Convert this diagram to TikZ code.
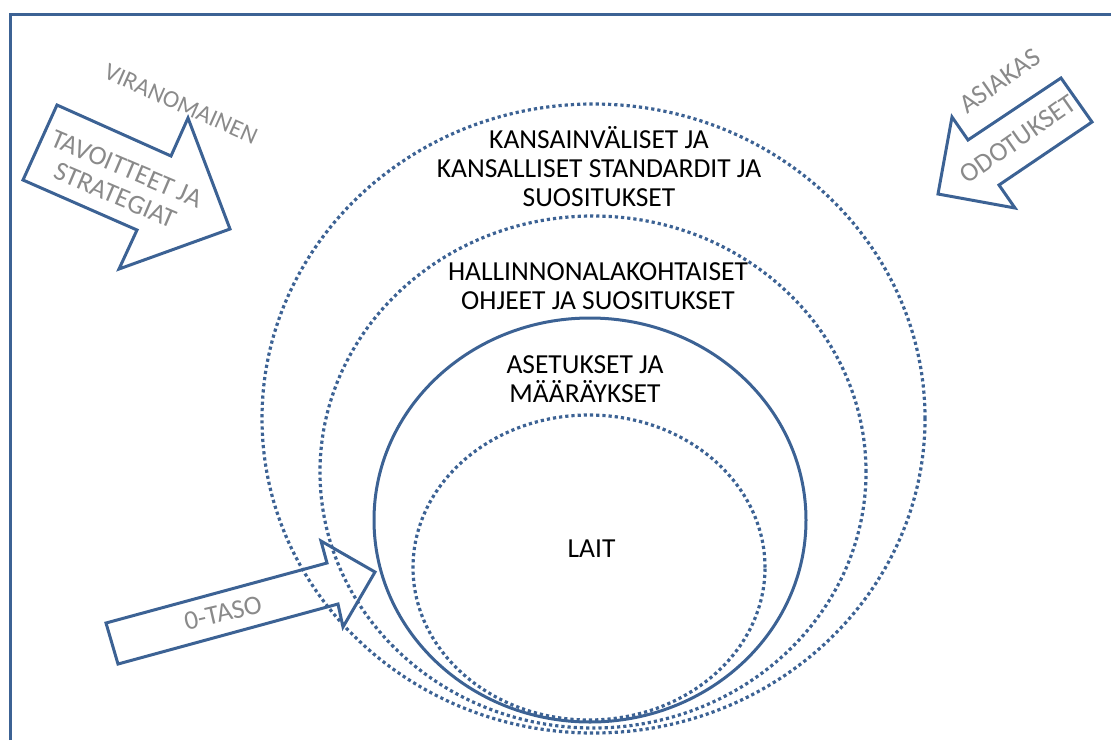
\documentclass[tikz,border=0pt]{standalone}
\usepackage{fontspec}
\setmainfont{Carlito}
\usetikzlibrary{shapes.geometric}
\definecolor{frameblue}{RGB}{60,98,148}
\definecolor{txtgrey}{RGB}{138,138,138}
\begin{document}
\begin{tikzpicture}[x=1pt,y=-1pt,
  ring/.style={ellipse, draw=frameblue, inner sep=0pt, line width=3.2pt},
  dottedring/.style={ring, dash pattern=on 3.2pt off 3pt},
  solidring/.style={ring, line width=3pt},
  blockarrow/.style={draw=frameblue, line width=3pt, line join=miter},
  lbl/.style={font=\fontsize{27.5}{29}\selectfont, align=center, text=black, inner sep=0pt},
  glbl/.style={font=\fontsize{27}{29}\selectfont, align=center, text=txtgrey, inner sep=0pt}
]
\useasboundingbox (0,0) rectangle (1111,740);
\draw[frameblue, line width=3pt] (10,740) -- (10,14) -- (1111,14);

\node[dottedring, minimum width=663pt, minimum height=629pt] (outer) at (593.5,418.5) {};
\node[dottedring, minimum width=546pt, minimum height=512pt] (second) at (593,472) {};
\node[solidring, minimum width=432pt, minimum height=404pt] (solid) at (590,520) {};
\node[dottedring, minimum width=352pt, minimum height=305pt] (inner) at (589,567.5) {};

\node[lbl] (kans) at (599,167) {KANSAINVÄLISET JA\\KANSALLISET STANDARDIT JA\\SUOSITUKSET};
\node[lbl] (hall) at (598,286) {HALLINNONALAKOHTAISET\\OHJEET JA SUOSITUKSET};
\node[lbl] (aset) at (585,379) {ASETUKSET JA\\MÄÄRÄYKSET};
\node[lbl] (lait) at (591.5,549) {LAIT};

\draw[blockarrow] (57,105) -- (171,156) -- (188,118) -- (230,229) -- (119,269) -- (137,230) -- (23,180) -- cycle;
\draw[blockarrow] (1061,78) -- (1092,122) -- (999,185) -- (1015,208) -- (938,194) -- (952,117) -- (968,140) -- cycle;
\draw[blockarrow] (106,623) -- (327,563) -- (321,541) -- (375,572) -- (343,627) -- (338,604) -- (118,664) -- cycle;

\node[glbl, rotate=-24, font=\fontsize{24.5}{29}\selectfont] (viran) at (181,104) {VIRANOMAINEN};
\node[glbl, rotate=-23] (tavo) at (121,182) {TAVOITTEET JA\\STRATEGIAT};
\node[glbl, rotate=35] (asia) at (1000,81) {ASIAKAS};
\node[glbl, rotate=35] (odot) at (1018,139) {ODOTUKSET};
\node[glbl, rotate=13] (taso) at (223,613) {0-TASO};
\end{tikzpicture}
\end{document}
